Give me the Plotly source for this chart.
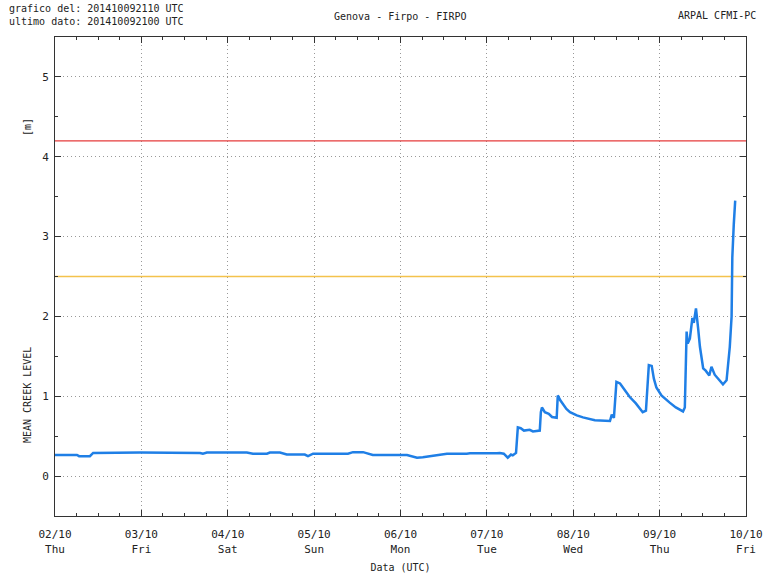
import pandas as pd
import plotly.graph_objects as go

# Hours since 2014-10-02 00:00 UTC and mean creek level [m]
hours = [0, 6.1, 6.7, 9.7, 10.6, 23.6, 40.3, 41.1, 42.2, 53.3, 55.0, 58.9, 59.7, 62.5,
         64.4, 69.4, 70.3, 71.7, 81.4, 82.8, 85.6, 88.3, 97.8, 100.6, 102.2, 106.9,
         108.9, 114.4, 115.3, 122.8, 123.6, 124.7, 125.8, 126.7, 127.2, 128.1, 128.6,
         129.4, 130.3, 131.9, 132.8, 134.7, 135.0, 135.3, 136.1, 137.2, 138.1, 139.4,
         139.7, 140.4, 141.1, 142.1, 143.1, 145.0, 146.7, 150.0, 154.2, 154.7, 155.3, 156.0,
         157.0, 158.3, 159.7, 161.4, 162.5, 163.3, 164.2, 165.0, 165.8, 166.4, 167.1,
         168.5, 170.8, 172.5, 174.5, 175.0, 175.5, 175.8, 176.4, 177.1, 177.5, 178.1,
         178.7, 179.2, 180.1, 180.8, 181.8, 182.4, 183.3, 184.7, 185.6, 186.6, 187.5,
         188.0, 188.2, 188.6, 189.0]
level = [0.265, 0.265, 0.25, 0.25, 0.29, 0.295, 0.29, 0.28, 0.295, 0.295, 0.28, 0.28, 0.295, 0.295,
         0.27, 0.27, 0.25, 0.28, 0.28, 0.30, 0.30, 0.265, 0.265, 0.23, 0.235, 0.265,
         0.28, 0.28, 0.285, 0.285, 0.29, 0.28, 0.23, 0.27, 0.26, 0.29, 0.61,
         0.60, 0.57, 0.58, 0.56, 0.57, 0.80, 0.86, 0.80, 0.78, 0.74, 0.73,
         1.01, 0.95, 0.90, 0.84, 0.80, 0.76, 0.735, 0.70, 0.69, 0.77, 0.73, 1.18,
         1.16, 1.08, 0.99, 0.91, 0.84, 0.80, 0.82, 1.39, 1.38, 1.22, 1.11,
         1.01, 0.92, 0.86, 0.81, 0.86, 1.81, 1.66, 1.72, 1.98, 1.92, 2.10,
         1.85, 1.62, 1.35, 1.32, 1.26, 1.37, 1.27, 1.20, 1.15, 1.20, 1.62,
         2.0, 2.74, 3.15, 3.45]

threshold_red = 4.2
threshold_yellow = 2.5
x_start = "2014-10-02 00:00"
x_end = "2014-10-10 00:00"

times = pd.Timestamp(x_start) + pd.to_timedelta(hours, unit="h")

font = "DejaVu Sans Mono"
fig = go.Figure()
fig.add_trace(go.Scatter(x=[x_start, x_end], y=[threshold_red] * 2, mode="lines",
                         line=dict(color="#e53b3b", width=1.2), hoverinfo="skip"))
fig.add_trace(go.Scatter(x=[x_start, x_end], y=[threshold_yellow] * 2, mode="lines",
                         line=dict(color="#f4c24c", width=1.5), hoverinfo="skip"))
fig.add_trace(go.Scatter(x=times, y=level, mode="lines",
                         line=dict(color="#1f7fe6", width=2.5, shape="linear")))

grid_dash = "1px,3px"
fig.update_layout(
    width=767, height=576, showlegend=False,
    paper_bgcolor="white", plot_bgcolor="white",
    margin=dict(l=55, r=21, t=37, b=60, autoexpand=False),
    font=dict(family=font, size=10, color="#222"),
    xaxis=dict(range=[x_start, x_end], type="date", dtick=86400000,
               tick0=x_start, tickformat="%d/%m<br>%a", automargin=False,
               showline=True, linecolor="#333", linewidth=1, mirror="ticks",
               ticks="inside", ticklen=6, tickcolor="#333",
               showgrid=True, gridcolor="#999999", griddash=grid_dash, gridwidth=1,
               minor=dict(dtick=6 * 3600000, ticks="inside", ticklen=3, tickcolor="#333",
                          showgrid=False),
               zeroline=False, tickfont=dict(size=11), ticklabelstandoff=8,
               title=dict(text="Data (UTC)", font=dict(size=10), standoff=9)),
    yaxis=dict(range=[-0.5, 5.5], dtick=1, tick0=0, automargin=False,
               showline=True, linecolor="#333", linewidth=1, mirror="ticks",
               ticks="inside", ticklen=6, tickcolor="#333",
               showgrid=True, gridcolor="#999999", griddash=grid_dash, gridwidth=1,
               minor=dict(dtick=0.5, ticks="inside", ticklen=3, tickcolor="#333",
                          showgrid=False),
               zeroline=False, tickfont=dict(size=11), ticklabelstandoff=3),
    annotations=[
        dict(text="grafico del: 201410092110 UTC", xref="paper", yref="paper",
             x=-0.0695, y=1.0605, xanchor="left", yanchor="middle",
             showarrow=False, font=dict(size=10)),
        dict(text="ultimo dato: 201410092100 UTC", xref="paper", yref="paper",
             x=-0.0695, y=1.0334, xanchor="left", yanchor="middle",
             showarrow=False, font=dict(size=10)),
        dict(text="Genova - Firpo - FIRPO", xref="paper", yref="paper", x=0.4993, y=1.0418,
             xanchor="center", yanchor="middle", showarrow=False, font=dict(size=10)),
        dict(text="ARPAL CFMI-PC", xref="paper", yref="paper", x=1.0174, y=1.044,
             xanchor="right", yanchor="middle", showarrow=False, font=dict(size=10)),
        dict(text="MEAN CREEK LEVEL", xref="paper", yref="paper", x=-0.0405, y=0.2526,
             xanchor="center", yanchor="middle", textangle=-90, showarrow=False,
             font=dict(size=10)),
        dict(text="[m]", xref="paper", yref="paper", x=-0.0405, y=0.812,
             xanchor="center", yanchor="middle", textangle=-90, showarrow=False,
             font=dict(size=10)),
    ],
)

fig.write_html("out.html")
